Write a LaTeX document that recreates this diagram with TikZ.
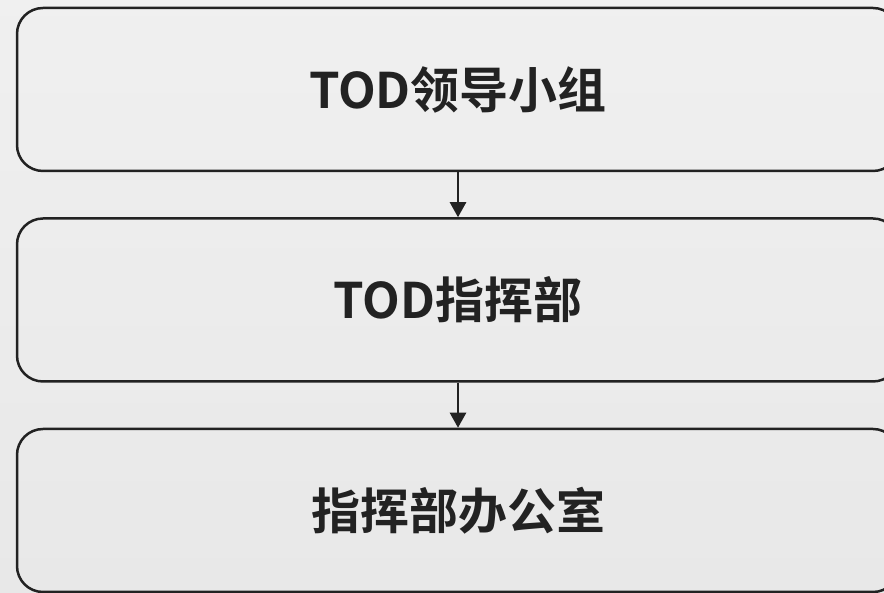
\documentclass[tikz,border=0pt]{standalone}
\usepackage{fontspec}
\newfontfamily\cjk{Noto Sans CJK SC Bold}
\usetikzlibrary{positioning,arrows.meta}
\definecolor{edgegray}{HTML}{222222}

\begin{document}
\begin{tikzpicture}
    \tikzstyle{unit}=[rectangle, rounded corners=26pt, draw=edgegray, line width=2.5pt, minimum width=882pt, minimum height=163pt, font=\cjk\fontsize{49}{58}\selectfont, text=edgegray, node distance=45pt]
    \tikzstyle{connect}=[-{Triangle[length=15pt,width=16pt]}, line width=2.5pt, draw=edgegray]
      \fill[top color=black!6, bottom color=black!9] (0pt,0pt) rectangle (884pt,593pt);
      \useasboundingbox (0pt,0pt) rectangle (884pt,593pt);
      \node[unit] (lead) at (458pt,503.5pt) {TOD领导小组};
      \node[unit] (cmd) [below=of lead] {TOD指挥部};
      \node[unit] (office) [below=of cmd] {指挥部办公室};
      \path (lead) edge [connect] (cmd) ;
      \path (cmd) edge [connect] (office) ;
\end{tikzpicture}
\end{document}
